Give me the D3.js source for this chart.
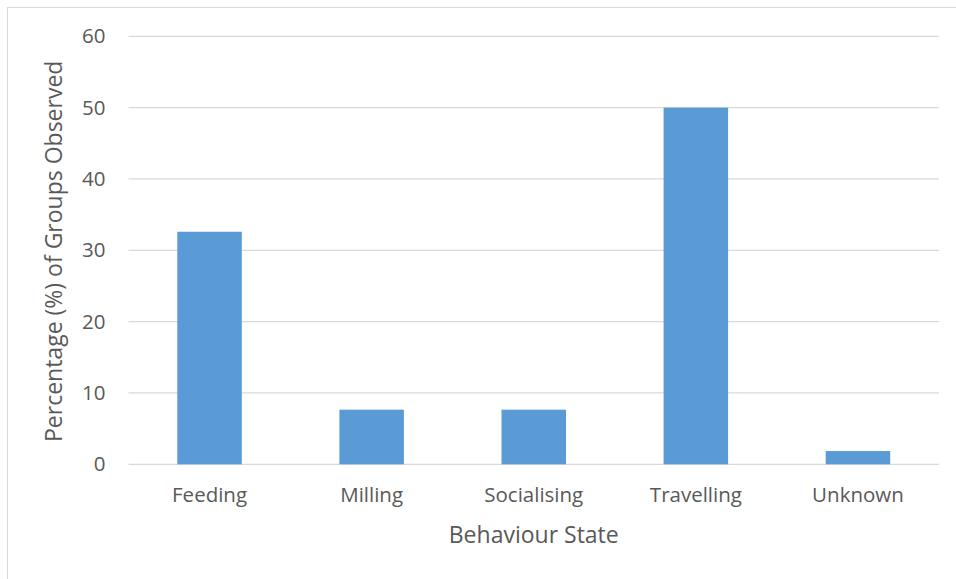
<!DOCTYPE html>
<html>
<head>
<meta charset="utf-8">
<script src="https://cdn.jsdelivr.net/npm/d3@7"></script>
<style>
  html, body { margin: 0; padding: 0; background: #fff; }
  svg { display: block; }
  text { font-family: "Open Sans", "DejaVu Sans", sans-serif; fill: #595959; }
</style>
</head>
<body>
<svg id="chart" width="956" height="579"></svg>
<script>
// Behaviour states and share (%) of groups observed in each
const categories = ["Feeding", "Milling", "Socialising", "Travelling", "Unknown"];
const percentages = [32.6, 7.66, 7.66, 50, 1.86];
const yTicks = [0, 10, 20, 30, 40, 50, 60];
const xTitle = "Behaviour State";
const yTitle = "Percentage (%) of Groups Observed";

const svg = d3.select("#chart");
const margin = { left: 128.5, right: 17, top: 36.3, bottom: 114.7 };
const W = 956, H = 579;

// outer chart frame
svg.append("rect")
  .attr("x", 7.5).attr("y", 7.5)
  .attr("width", 1000).attr("height", 1000)
  .attr("fill", "none").attr("stroke", "#d9d9d9").attr("stroke-width", 1);

const x = d3.scaleBand()
  .domain(categories)
  .range([margin.left, W - margin.right])
  .paddingInner(0.602).paddingOuter(0.301);

const y = d3.scaleLinear()
  .domain([0, 60])
  .range([H - margin.bottom, margin.top]);

// horizontal gridlines
svg.append("g")
  .selectAll("line")
  .data(yTicks)
  .join("line")
  .attr("x1", margin.left).attr("x2", W - margin.right)
  .attr("y1", d => y(d)).attr("y2", d => y(d))
  .attr("stroke", "#d9d9d9").attr("stroke-width", 1.3);

// bars
svg.append("g")
  .selectAll("rect")
  .data(categories.map((c, i) => ({ c, v: percentages[i] })))
  .join("rect")
  .attr("x", d => x(d.c))
  .attr("width", x.bandwidth())
  .attr("y", d => y(d.v))
  .attr("height", d => y(0) - y(d.v))
  .attr("fill", "#5b9bd5");

// y axis labels
const yAxis = d3.axisLeft(y).tickValues(yTicks).tickSize(0).tickPadding(23);
const yg = svg.append("g").attr("transform", `translate(${margin.left},0)`).call(yAxis);
yg.select(".domain").remove();
yg.selectAll("text").style("font-size", "20.5px").attr("fill", "#595959")
  .style("font-family", "'Open Sans', sans-serif");

// x axis labels
const xAxis = d3.axisBottom(x).tickSize(0).tickPadding(23);
const xg = svg.append("g").attr("transform", `translate(0,${y(0)})`).call(xAxis);
xg.select(".domain").remove();
xg.selectAll("text").style("font-size", "20.5px").attr("fill", "#595959")
  .style("font-family", "'Open Sans', sans-serif");

// axis titles
svg.append("text")
  .attr("x", (margin.left + W - margin.right) / 2)
  .attr("y", 543)
  .attr("text-anchor", "middle")
  .style("font-size", "23px")
  .text(xTitle);

svg.append("text")
  .attr("transform", `translate(62,${(y(0) + y(60)) / 2 + 1}) rotate(-90)`)
  .attr("text-anchor", "middle")
  .style("font-size", "23px")
  .text(yTitle);
</script>
</body>
</html>
